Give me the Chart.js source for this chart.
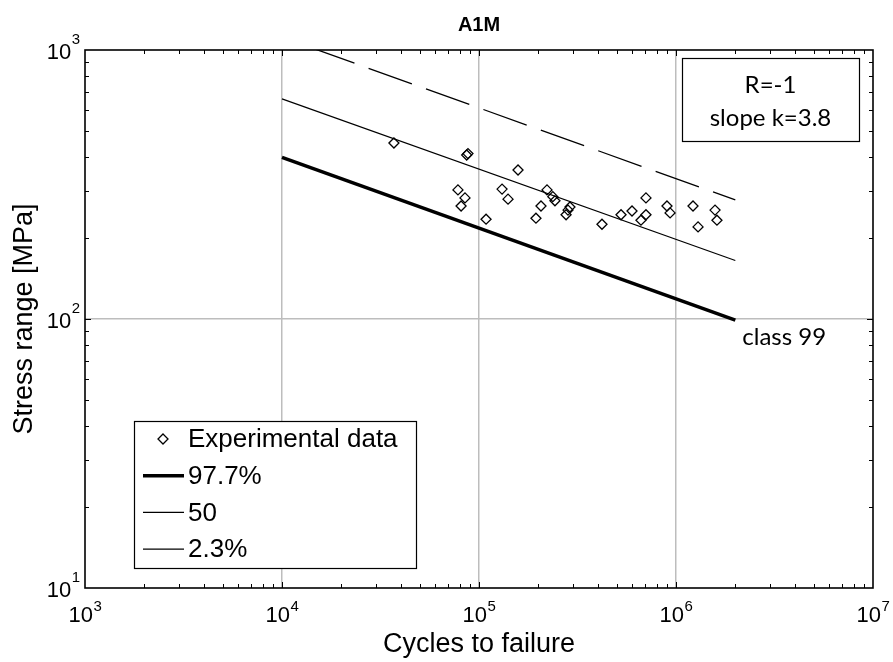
<!DOCTYPE html>
<html><head><meta charset="utf-8">
<script src="https://cdn.jsdelivr.net/npm/chart.js@4.4.1/dist/chart.umd.min.js"></script>
<style>html,body{margin:0;padding:0;background:#fff;}#wrap{width:893px;height:662px;position:relative;}</style>
</head><body><div id="wrap"><canvas id="c" width="893" height="662"></canvas></div>
<script>
const chartTitle = 'A1M';
const xAxisTitle = 'Cycles to failure';
const yAxisTitle = 'Stress range [MPa]';
const xTickExponents = [3, 4, 5, 6, 7];
const yTickExponents = [1, 2, 3];
const seriesLabels = ['Experimental data', '97.7%', '50', '2.3%'];
const noteLines = ['R=-1', 'slope k=3.8'];
const classLabel = 'class 99';

const expCycles = [37000, 86600, 87900, 157800, 78200, 84900, 81100, 108600, 130900, 140400,
  221400, 206400, 194600, 237000, 243000, 289600, 276700, 283000, 421000, 526000,
  598000, 704000, 704000, 664000, 900000, 933000, 1220000, 1294000, 1578000, 1614000];
const expStress = [451, 407, 412, 358, 302, 282, 263, 235, 304, 279,
  302, 263, 237, 285, 275, 261, 244, 254, 225, 244,
  252, 282, 244, 233, 263, 248, 263, 220, 254, 233];

const curveCycles = [1e4, 2e6];
const curve977 = [399, 99];
const curve50 = [658, 165];
const curve23 = [1116, 277];

const pts = (xs, ys) => xs.map((x, i) => ({x, y: ys[i]}));
const isPow10 = v => Math.abs(Math.log10(v) - Math.round(Math.log10(v))) < 1e-6;

const decor = {
  id: 'decor',
  afterDraw(chart) {
    const {ctx, chartArea: a, scales: {x, y}} = chart;
    ctx.save();
    ctx.strokeStyle = '#000'; ctx.lineWidth = 1;
    ctx.beginPath();
    for (let e = 3; e < 7; e++) for (let k = 1; k <= 9; k++) {
      const v = k * Math.pow(10, e); if (v <= 1e3 || v >= 1e7) continue;
      const px = Math.round(x.getPixelForValue(v)) + 0.5; const L = k === 1 ? 6 : 4;
      ctx.moveTo(px, a.bottom); ctx.lineTo(px, a.bottom - L);
      ctx.moveTo(px, a.top); ctx.lineTo(px, a.top + L);
    }
    for (let e = 1; e < 3; e++) for (let k = 1; k <= 9; k++) {
      const v = k * Math.pow(10, e); if (v <= 10 || v >= 1000) continue;
      const py = Math.round(y.getPixelForValue(v)) + 0.5; const L = k === 1 ? 6 : 4;
      ctx.moveTo(a.left, py); ctx.lineTo(a.left + L, py);
      ctx.moveTo(a.right, py); ctx.lineTo(a.right - L, py);
    }
    ctx.stroke();
    ctx.lineWidth = 1.6;
    ctx.strokeRect(a.left, a.top, a.right - a.left, a.bottom - a.top);

    ctx.fillStyle = '#000';
    const base = '22px "Liberation Sans", Arial, sans-serif';
    const sup = '15px "Liberation Sans", Arial, sans-serif';
    xTickExponents.forEach(e => {
      const px = x.getPixelForValue(Math.pow(10, e));
      ctx.font = base; const w1 = ctx.measureText('10').width;
      ctx.font = sup; const w2 = ctx.measureText(String(e)).width;
      const x0 = px - (w1 + w2) / 2;
      ctx.textAlign = 'left'; ctx.textBaseline = 'alphabetic';
      ctx.font = base; ctx.fillText('10', x0, a.bottom + 34);
      ctx.font = sup; ctx.fillText(String(e), x0 + w1 + 0.5, a.bottom + 23);
    });
    yTickExponents.forEach(e => {
      const py = y.getPixelForValue(Math.pow(10, e));
      ctx.font = sup; const w2 = ctx.measureText(String(e)).width;
      ctx.font = base; const w1 = ctx.measureText('10').width;
      const x1 = a.left - 5 - w2;
      ctx.textAlign = 'left'; ctx.textBaseline = 'alphabetic';
      ctx.font = base; ctx.fillText('10', x1 - w1 - 0.5, py + 9);
      ctx.font = sup; ctx.fillText(String(e), x1, py - 6);
    });

    ctx.font = '27px "Liberation Sans", Arial, sans-serif';
    ctx.textAlign = 'center'; ctx.textBaseline = 'alphabetic';
    ctx.fillText(xAxisTitle, (a.left + a.right) / 2, 652);
    ctx.save();
    ctx.translate(32, (a.top + a.bottom) / 2);
    ctx.rotate(-Math.PI / 2);
    ctx.fillText(yAxisTitle, 0, 0);
    ctx.restore();
    ctx.font = 'bold 20px "Liberation Sans", Arial, sans-serif';
    ctx.fillText(chartTitle, (a.left + a.right) / 2, 31);

    const bx = a.right - 191, by = a.top + 8, bw = 177, bh = 83;
    ctx.fillStyle = '#fff'; ctx.fillRect(bx, by, bw, bh);
    ctx.strokeStyle = '#000'; ctx.lineWidth = 1.2; ctx.strokeRect(bx + 0.5, by + 0.5, bw, bh);
    ctx.fillStyle = '#000';
    ctx.font = '24px Lato, "Open Sans", sans-serif';
    ctx.fillText(noteLines[0], bx + bw / 2, by + 35);
    ctx.fillText(noteLines[1], bx + bw / 2, by + 68);

    const cx = x.getPixelForValue(curveCycles[1]), cy = y.getPixelForValue(curve977[1]);
    ctx.textAlign = 'left';
    ctx.fillText(classLabel, cx + 7, cy + 25);

    const lx = a.left + 49, lw = 282, lh = 147, ly = a.bottom - 20 - lh;
    ctx.fillStyle = '#fff'; ctx.fillRect(lx, ly, lw, lh);
    ctx.lineWidth = 1.2; ctx.strokeRect(lx + 0.5, ly + 0.5, lw, lh);
    ctx.fillStyle = '#000';
    ctx.font = '26px "Liberation Sans", Arial, sans-serif';
    ctx.textBaseline = 'middle';
    chart.data.datasets.forEach((ds, i) => {
      const ry = ly + 18 + i * 36.7;
      if (i === 0) {
        ctx.beginPath();
        ctx.moveTo(lx + 29, ry - 5); ctx.lineTo(lx + 34, ry); ctx.lineTo(lx + 29, ry + 5); ctx.lineTo(lx + 24, ry); ctx.closePath();
        ctx.lineWidth = 1.3; ctx.strokeStyle = '#000'; ctx.stroke();
      } else {
        ctx.beginPath(); ctx.moveTo(lx + 9, ry); ctx.lineTo(lx + 50, ry);
        ctx.lineWidth = ds.borderWidth; ctx.setLineDash([]); ctx.strokeStyle = '#000'; ctx.stroke();
      }
      ctx.fillText(ds.label, lx + 54, ry + 1);
    });
    ctx.restore();
  }
};

new Chart(document.getElementById('c'), {
  type: 'scatter',
  data: {
    datasets: [
      {label: seriesLabels[0], data: pts(expCycles, expStress), showLine: false,
       pointStyle: 'rectRot', pointRadius: 5, pointBorderWidth: 1.3,
       pointBorderColor: '#000', pointBackgroundColor: 'rgba(255,255,255,0)', borderWidth: 1.3},
      {label: seriesLabels[1], data: pts(curveCycles, curve977), showLine: true, borderColor: '#000',
       borderWidth: 3.6, pointRadius: 0, borderCapStyle: 'butt'},
      {label: seriesLabels[2], data: pts(curveCycles, curve50), showLine: true, borderColor: '#000',
       borderWidth: 1.2, pointRadius: 0},
      {label: seriesLabels[3], data: pts(curveCycles, curve23), showLine: true, borderColor: '#000',
       borderWidth: 1.3, pointRadius: 0, borderDash: [46, 15], borderDashOffset: 30}
    ]
  },
  options: {
    responsive: false, animation: false, devicePixelRatio: 1,
    layout: {padding: {left: 85, right: 20, top: 50, bottom: 74}},
    plugins: {legend: {display: false}, tooltip: {enabled: false}, title: {display: false}},
    scales: {
      x: {type: 'logarithmic', min: 1e3, max: 1e7,
          ticks: {display: false}, border: {display: false},
          grid: {drawTicks: false, lineWidth: 1.5,
                 color: c => (c.tick && isPow10(c.tick.value) && c.tick.value > 1e3 && c.tick.value < 1e7) ? '#bdbdbd' : 'rgba(0,0,0,0)'},
          afterFit: s => { s.height = 0; }},
      y: {type: 'logarithmic', min: 10, max: 1000,
          ticks: {display: false}, border: {display: false},
          grid: {drawTicks: false, lineWidth: 1.5,
                 color: c => (c.tick && isPow10(c.tick.value) && c.tick.value > 10 && c.tick.value < 1000) ? '#bdbdbd' : 'rgba(0,0,0,0)'},
          afterFit: s => { s.width = 0; }}
    }
  },
  plugins: [decor]
});
</script></body></html>
